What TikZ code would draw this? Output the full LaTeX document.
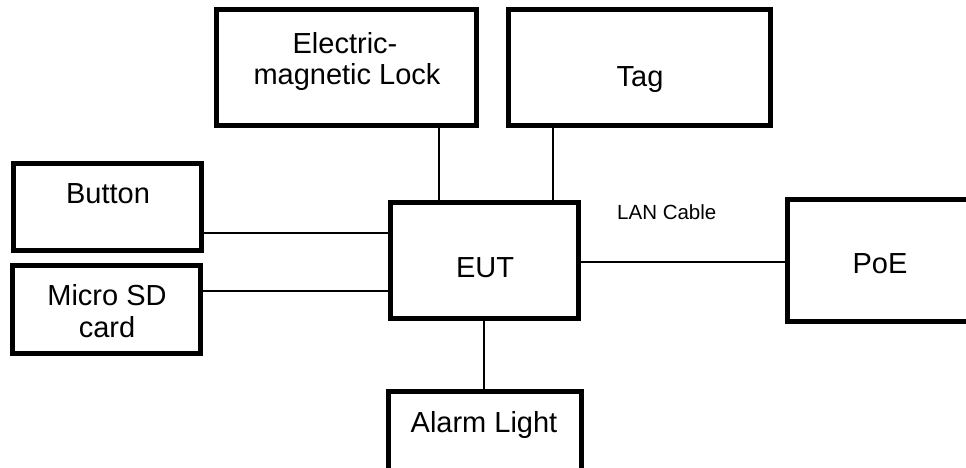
\documentclass[tikz,border=0pt]{standalone}
\usepackage{fontspec}
\setmainfont{Liberation Sans}
\begin{document}
\begin{tikzpicture}[x=1pt,y=-1pt,
  box/.style={draw=black,line width=5pt,inner sep=0pt,outer sep=0pt,fill=white},
  lbl/.style={anchor=base,inner sep=0pt,font=\fontsize{29}{33}\selectfont},
  small/.style={anchor=base west,inner sep=0pt,font=\fontsize{20.5}{24}\selectfont},
  wire/.style={draw=black,line width=1.3pt}]
\useasboundingbox (0,0) rectangle (966,467);
\clip (0,0) rectangle (966,467);
% boxes
\node[box,minimum width=260pt,minimum height=116pt] (lock) at (346.5,67.5) {};
\node[box,minimum width=262pt,minimum height=116pt] (tag) at (639.5,67.5) {};
\node[box,minimum width=188pt,minimum height=87pt] (button) at (107.5,206.5) {};
\node[box,minimum width=188pt,minimum height=88pt] (sd) at (106.5,309.5) {};
\node[box,minimum width=188pt,minimum height=116pt] (eut) at (484.5,260.5) {};
\node[box,minimum width=185pt,minimum height=122pt] (poe) at (880,260.5) {};
\node[box,minimum width=193pt,minimum height=89pt] (alarm) at (485,436) {};
% connector positions
\coordinate (xl) at (439,0);
\coordinate (xt) at (553,0);
\coordinate (xa) at (484,0);
\coordinate (yb) at (0,233);
\coordinate (ys) at (0,291);
\coordinate (yp) at (0,262);
\draw[wire] (lock.south -| xl) -- (eut.north -| xl);
\draw[wire] (tag.south -| xt) -- (eut.north -| xt);
\draw[wire] (button.east |- yb) -- (eut.west |- yb);
\draw[wire] (sd.east |- ys) -- (eut.west |- ys);
\draw[wire] (eut.east |- yp) -- (poe.west |- yp);
\draw[wire] (eut.south -| xa) -- (alarm.north -| xa);
% texts
\node[lbl] (lockA) at (345,53) {Electric-};
\node[lbl] (lockB) at (347,84) {magnetic Lock};
\node[lbl] (tagT) at (640,86) {Tag};
\node[lbl] (buttonT) at (108,203) {Button};
\node[lbl] (sdA) at (107,305) {Micro SD};
\node[lbl] (sdB) at (107,337) {card};
\node[lbl] (eutT) at (485,277) {EUT};
\node[lbl] (poeT) at (880,273) {PoE};
\node[lbl] (alarmT) at (484,432) {Alarm Light};
\node[small] (lan) at (617,219) {LAN Cable};
\end{tikzpicture}
\end{document}
